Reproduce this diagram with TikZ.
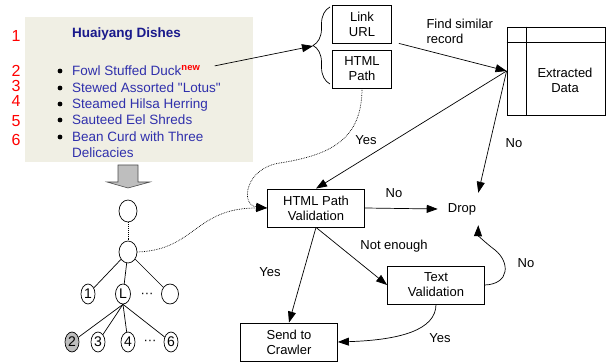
\documentclass[tikz,border=0pt]{standalone}
\usepackage{fontspec}
\setmainfont{Liberation Sans}
\usetikzlibrary{arrows.meta,shapes.geometric,decorations.pathreplacing}
\definecolor{panel}{RGB}{240,239,228}
\definecolor{titleblue}{RGB}{26,26,140}
\definecolor{itemblue}{RGB}{48,48,172}
\definecolor{numred}{RGB}{255,0,0}
\definecolor{leafgray}{RGB}{190,190,190}
\begin{document}
\begin{tikzpicture}[x=1pt,y=-1pt,
    font=\fontsize{13}{15}\selectfont,
    box/.style={draw,line width=0.8pt,align=center,minimum width=97pt,minimum height=38pt,inner sep=0pt},
    tnode/.style={draw,ellipse,line width=0.7pt,inner sep=0pt,minimum width=14pt,minimum height=20pt,font=\fontsize{14}{14}\selectfont},
    item/.style={anchor=base west,inner sep=0pt,text=itemblue,font=\fontsize{13.5}{16}\selectfont},
    arr/.style={-{Triangle[length=11pt,width=8pt]},line width=0.7pt},
    dots/.style={densely dotted,line width=0.9pt}]
        \useasboundingbox (0,0) rectangle (606,363);

        % the web page
        \fill[panel] (25,17) rectangle (253,162);
        \node[anchor=west,inner sep=0pt,text=titleblue,font=\bfseries\fontsize{13.5}{15}\selectfont] (title) at (72,34) {Huaiyang Dishes};
        \foreach \n/\y in {1/36,2/71,3/86,4/101,5/121,6/140}
            \node[text=numred,font=\fontsize{16}{16}\selectfont] (num\n) at (16,\y) {\n};
        \foreach \y in {71,88,104,120,137}
            \fill (60,\y) circle (2.4pt);
        \node[item] (duck) at (72,76) {Fowl Stuffed Duck\textsuperscript{\textcolor{numred}{\bfseries new}}};
        \node[item] (lotus) at (72,93) {Stewed Assorted \textquotedbl Lotus\textquotedbl};
        \node[item] (hilsa) at (72,109) {Steamed Hilsa Herring};
        \node[item] (eel) at (72,125) {Sauteed Eel Shreds};
        \node[item] (bean) at (72,142) {Bean Curd with Three};
        \node[item] (beanb) at (72,158) {Delicacies};

        % the tree
        \path[draw=gray!60!black,fill=leafgray,line width=0.6pt] (118,165) -- (138,165) -- (138,182) -- (150,182) -- (128,188) -- (107,182) -- (118,182) -- cycle;
        \node[tnode,minimum width=18pt,minimum height=22pt] (root) at (128,211) {};
        \node[tnode,minimum width=18pt,minimum height=22pt] (n2) at (128,252) {};
        \node[tnode] (c1) at (88,294) {1};
        \node[tnode,minimum width=15pt] (cl) at (123,294) {L};
        \node (cdots) at (147,295) {···};
        \node[tnode,minimum width=17pt] (c3) at (170,294) {};
        \node[tnode,fill=leafgray] (g2) at (72,342) {2};
        \node[tnode] (g3) at (98,342) {3};
        \node[tnode] (g4) at (128,342) {4};
        \node (gdots) at (150,342) {···};
        \node[tnode] (g6) at (171,342) {6};
        \path[draw,dots] (root) -- (n2);
        \foreach \c in {c1,cl,c3}
            \path[draw,line width=0.7pt] (n2) -- (\c);
        \foreach \g in {g2,g3,g4,g6}
            \path[draw,line width=0.7pt] (cl.south) -- (\g);

        % the flow
        \node[box,minimum width=59pt] (link) at (362,24) {Link\\URL};
        \node[box,minimum width=59pt] (hpath) at (362,69) {HTML\\Path};
        \coordinate (tip) at (313,46);
        \draw[line width=0.7pt,decorate,decoration={brace,amplitude=17pt}] (330,84) -- (330,7);
        \node[draw,line width=0.8pt,minimum width=98pt,minimum height=88pt] (data) at (556,71) {};
        \path[draw,line width=0.8pt] ([xshift=20pt]data.north west) -- ([xshift=20pt]data.south west);
        \path[draw,line width=0.8pt] ([yshift=-16pt]data.north west) -- ([yshift=-16pt]data.north east);
        \node[align=center] (datatxt) at (565,80) {Extracted\\Data};
        \node[box] (hpv) at (316,208) {HTML Path\\Validation};
        \node[box] (txtv) at (436,285) {Text\\Validation};
        \node[box] (send) at (289,342) {Send to\\Crawler};
        \node[minimum height=32pt,inner xsep=2pt] (drop) at (462,209) {Drop};

        \node[anchor=west,align=left] (lfind) at (423,31) {Find similar\\record};
        \node (lyes1) at (366,140) {Yes};
        \node (lno1) at (514,143) {No};
        \node (lno2) at (394,193) {No};
        \node (lnot) at (394,246) {Not enough};
        \node (lyes2) at (270,272) {Yes};
        \node (lno3) at (526,263) {No};
        \node (lyes3) at (440,338) {Yes};

        \path[draw,arr] ([xshift=14pt,yshift=5pt]duck.east) -- (tip);
        \path[draw,arr] ([xshift=7pt]link.south east) -- (data.west);
        \path[draw,arr] (data.west) -- (hpv.north);
        \path[draw,arr] (data.west) -- (drop.north east);
        \path[draw,arr] (hpv.east) -- ([xshift=-8pt]drop.west);
        \path[draw,arr] (hpv.south) -- (txtv.west);
        \path[draw,arr] (hpv.south) -- (send.north);
        \path[draw,arr] (txtv.east) .. controls (510,284) and (510,262) .. (495,250) .. controls (482,240) and (478,235) .. (drop.south east);
        \path[draw,arr] (txtv.south) .. controls (436,330) and (400,340) .. (send.east);
        \path[draw,dots,arr] (hpath.south) .. controls (362,140) and (330,155) .. (280,163) .. controls (245,168) and (240,205) .. (hpv.west);
        \path[draw,dots,arr] (n2.east) .. controls (195,250) and (195,208) .. (hpv.west);
    \end{tikzpicture}
\end{document}
